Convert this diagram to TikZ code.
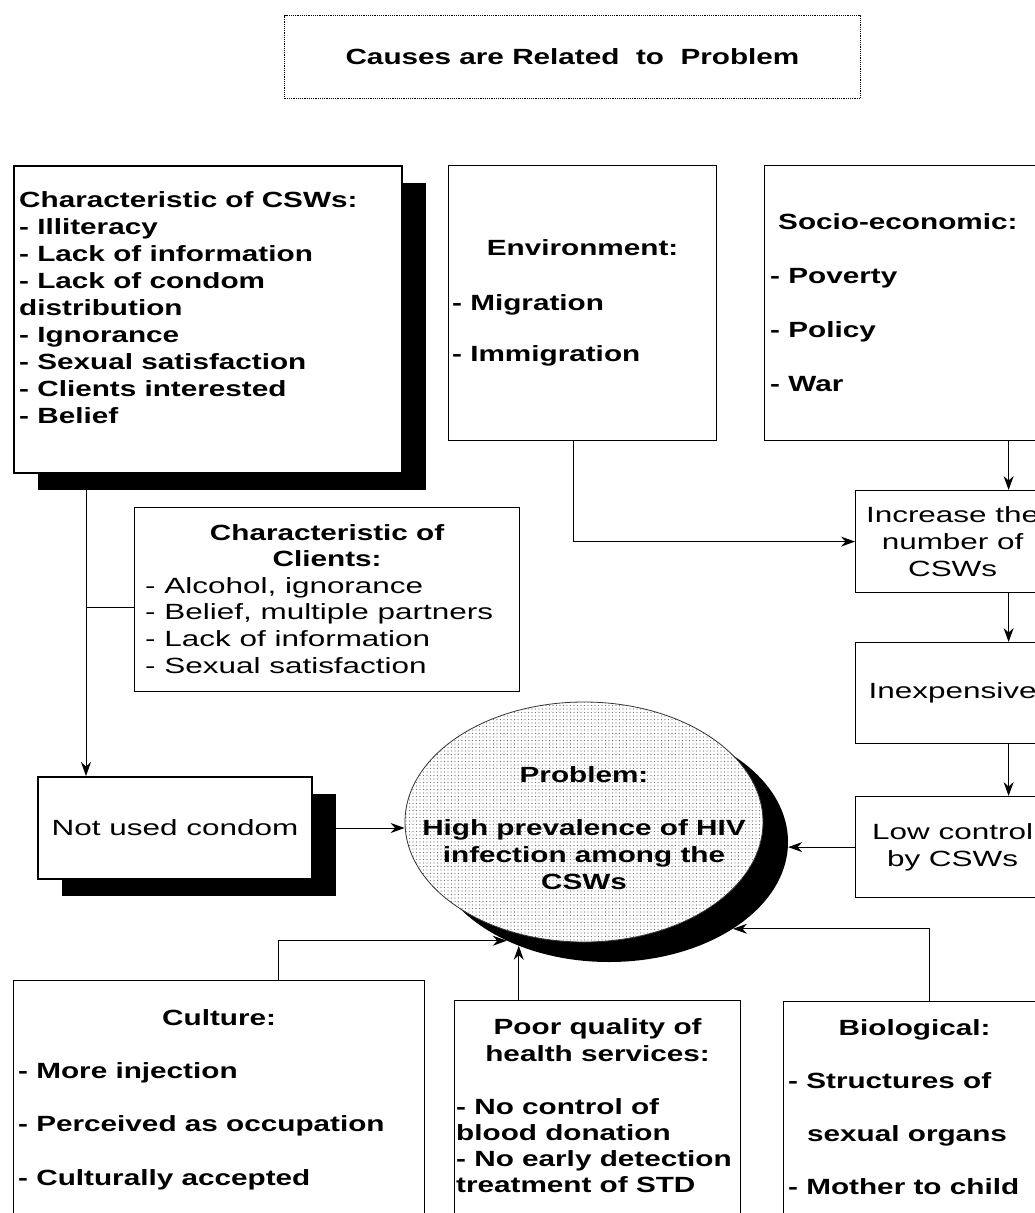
\documentclass[tikz,border=0pt]{standalone}
\usepackage{fontspec}
\setmainfont{Liberation Sans}[UprightFeatures={FakeStretch=1.43},BoldFeatures={FakeStretch=1.35}]
\usetikzlibrary{arrows.meta,shapes.geometric,shadows,patterns.meta}
\newcommand\bodyfont{\fontsize{22}{27}\selectfont}

\begin{document}
\begin{tikzpicture}[x=1pt, y=-1pt, >={Stealth[length=14pt,width=10pt]},
    box/.style={draw, line width=1.2pt, inner sep=0pt, anchor=north west, font=\bodyfont},
    heavy/.style={box, fill=white, line width=2pt, drop shadow={shadow xshift=24pt, shadow yshift=-17pt, fill=black, opacity=1}},
    txt/.style={inner sep=0pt, anchor=base west, align=left, font=\bodyfont},
    btxt/.style={txt, font=\bodyfont\bfseries},
    hd/.style={inner sep=0pt, anchor=base, align=center, font=\bodyfont\bfseries},
    blob/.style={ellipse, minimum width=358pt, minimum height=240pt, inner sep=0pt},
    link/.style={->, line width=1pt}]
    \useasboundingbox (0,0) rectangle (1035,1213);

    % title
    \node[box, densely dotted, line width=1pt, minimum width=576pt, minimum height=83pt] (ttl) at (284,15) {};
    \node[hd, anchor=center] (ttlt) at (ttl.center) {Causes are Related\ \ to\ \ Problem};

    % top row (text nodes sit on the baseline of their last line)
    \node[heavy, minimum width=388pt, minimum height=307pt] (csw) at (13,165) {};
    \node[btxt] (cswt) at ([shift={(6pt,-258pt)}]csw.north west) {Characteristic of CSWs:\\ - Illiteracy\\ - Lack of information\\ - Lack of condom\\ distribution\\ - Ignorance\\ - Sexual satisfaction\\ - Clients interested\\ - Belief};

    \node[box, minimum width=268pt, minimum height=275pt] (env) at (448,165) {};
    \node[hd] (envh) at ([yshift=-90pt]env.north) {Environment:};
    \node[btxt] (envt) at ([shift={(4pt,-196pt)}]env.north west) {- Migration\\[24pt] - Immigration};

    \node[box, minimum width=290pt, minimum height=275pt] (soc) at (764,165) {};
    \node[btxt] (soct) at ([shift={(6pt,-226pt)}]soc.north west) {\hspace*{8pt}Socio-economic:\\[27pt] - Poverty\\[27pt] - Policy\\[27pt] - War};

    % right column
    \node[box, align=center, minimum width=194pt, minimum height=102pt] (inc) at (855,490) {Increase the\\ number of\\ CSWs};
    \node[box, minimum width=194pt, minimum height=101pt] (inex) at (855,642) {Inexpensive};
    \node[box, align=center, minimum width=194pt, minimum height=101pt] (low) at (855,796) {Low control\\ by CSWs};

    % clients and condom
    \node[box, minimum width=385pt, minimum height=184pt] (cli) at (134,507) {};
    \node[hd] (clih) at ([yshift=-59pt]cli.north) {Characteristic of\\[-1pt] Clients:};
    \node[txt] (clit) at ([shift={(11pt,-166pt)}]cli.north west) {- Alcohol, ignorance\\[-0.4pt] - Belief, multiple partners\\[-0.4pt] - Lack of information\\[-0.4pt] - Sexual satisfaction};
    \node[heavy, minimum width=274pt, minimum height=102pt] (nuc) at (37,776) {Not used condom};

    % problem
    \node[blob, fill=black] (shad) at (609,842) {};
    \node[blob, draw=black!80, line width=0.8pt, preaction={fill=white}, pattern={Dots[distance=3.5pt, radius=0.55pt]}, pattern color=black!55] (prob) at (584,822) {};
    \node[inner sep=0pt, align=center, font=\bodyfont\bfseries] (probt) at (prob.center) {\rule{0pt}{29pt}Problem:\\[26pt] High prevalence of HIV\\ infection among the\\ CSWs};

    % bottom row
    \node[box, minimum width=411pt, minimum height=260pt] (cult) at (13,980) {};
    \node[hd] (culh) at ([yshift=-45pt]cult.north) {Culture:};
    \node[btxt] (cultt) at ([shift={(5pt,-205pt)}]cult.north west) {- More injection\\[26.5pt] - Perceived as occupation\\[26.5pt] - Culturally accepted};

    \node[box, minimum width=286pt, minimum height=240pt] (poor) at (454,1000) {};
    \node[hd] (poorh) at ([yshift=-61pt]poor.north) {Poor quality of\\ health services:};
    \node[btxt] (poort) at ([shift={(2pt,-192pt)}]poor.north west) {- No control of\\[-1.3pt] blood donation\\[-1.3pt] - No early detection\\[-1.3pt] treatment of STD};

    \node[box, minimum width=262pt, minimum height=240pt] (bio) at (783,1001) {};
    \node[hd] (bioh) at ([yshift=-34pt]bio.north) {Biological:};
    \node[btxt] (biot) at ([shift={(5pt,-193pt)}]bio.north west) {- Structures of\\[26pt] \hspace*{19pt}sexual organs\\[26pt] - Mother to child};

    % connectors
    \coordinate (sx) at ([xshift=56pt]inc.north);
    \draw[link] (sx |- soc.south) -- (sx);
    \draw[link] (sx |- inc.south) -- (sx |- inex.north);
    \draw[link] (sx |- inex.south) -- (sx |- low.north);
    \draw[link] ([xshift=-9pt]env.south) |- (inc.west);
    \draw[link] (low.west) -- (low.west -| shad.east);

    \coordinate (jn) at ([xshift=49pt]nuc.north west);
    \coordinate (cb) at ([yshift=-16pt]csw.south);
    \coordinate (cj) at ([yshift=-8pt]cli.west);
    \draw[link] (jn |- cb) -- (jn);
    \draw[line width=1pt] (cj) -- (cj -| jn);
    \draw[link] ([xshift=23pt]nuc.east) -- (nuc.east -| prob.west);

    \coordinate (cx) at ([xshift=59pt]cult.north);
    \coordinate (bx) at ([xshift=15pt]bio.north);
    \draw[link] (cx) |- (shad.224);
    \draw[link] (poor.north -| shad.229) -- (shad.229);
    \draw[link] (bx) |- (shad.-35);
\end{tikzpicture}
\end{document}
